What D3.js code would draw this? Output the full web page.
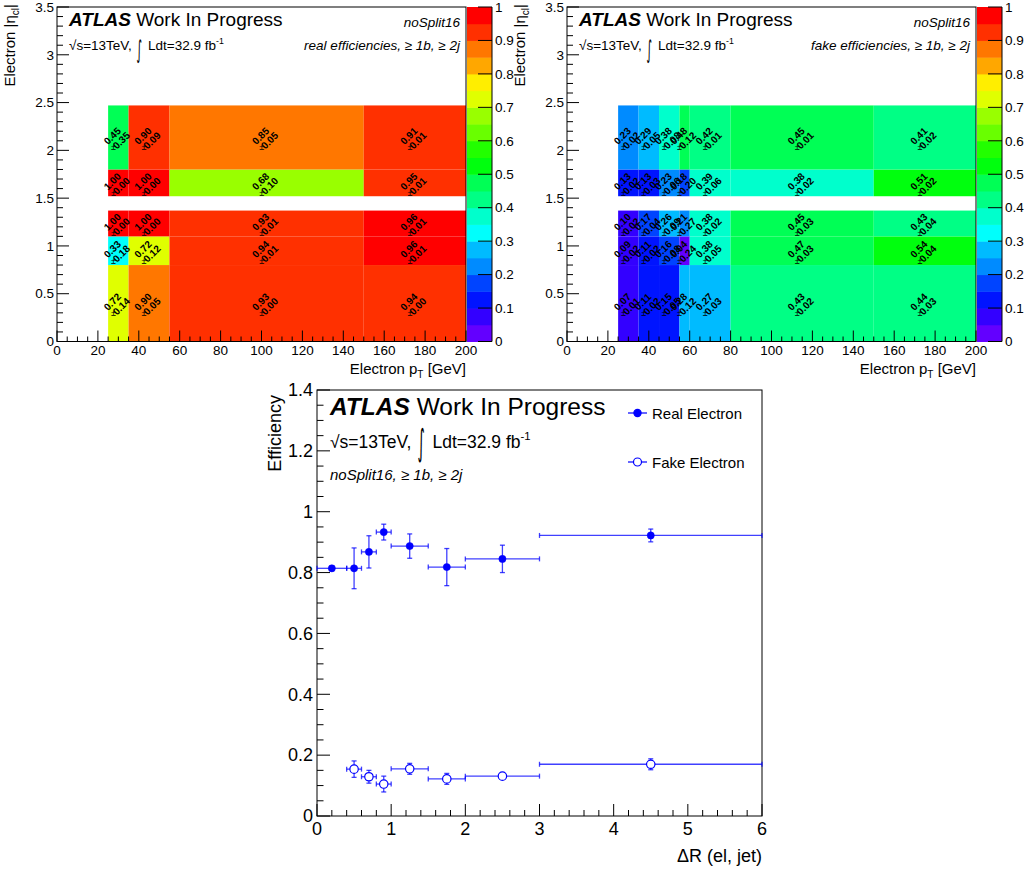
<!DOCTYPE html>
<html><head><meta charset="utf-8">
<script src="https://cdn.jsdelivr.net/npm/d3@7"></script>
<style>
body{margin:0;background:#fff}
svg{display:block}
text{font-family:"Liberation Sans",Arial,Helvetica,sans-serif;fill:#000}
</style>
</head><body>
<svg id="c" width="1028" height="873"></svg>
<script>
// ---------------- data ----------------
const etaBins = [[0,0.8],[0.8,1.1],[1.1,1.37],[1.52,1.8],[1.8,2.47]];
const realPtEdges = [25,35,55,150,200];
const realEff = [
  [0.72,0.898,0.93,0.94],
  [0.33,0.72,0.94,0.96],
  [1.00,1.00,0.93,0.96],
  [1.00,1.00,0.68,0.949],
  [0.45,0.902,0.852,0.91]
];
const realErr = [
  [0.14,0.05,0.00,0.00],
  [0.18,0.12,0.01,0.01],
  [0.00,0.00,0.01,0.01],
  [0.00,0.00,0.10,0.01],
  [0.35,0.09,0.05,0.01]
];
const fakePtEdges = [25,35,45,55,60,80,150,200];
const fakeEff = [
  [0.07,0.11,0.149,0.28,0.27,0.43,0.44],
  [0.09,0.11,0.16,0.04,0.38,0.47,0.54],
  [0.098,0.17,0.26,0.21,0.38,0.45,0.43],
  [0.13,0.13,0.23,0.18,0.39,0.38,0.51],
  [0.23,0.29,0.38,0.48,0.42,0.45,0.41]
];
const fakeErr = [
  [0.01,0.02,0.05,0.12,0.03,0.02,0.03],
  [0.02,0.02,0.08,0.24,0.05,0.03,0.04],
  [0.02,0.04,0.09,0.27,0.02,0.03,0.04],
  [0.02,0.03,0.06,0.20,0.06,0.02,0.02],
  [0.02,0.05,0.08,0.12,0.01,0.01,0.02]
];
const paletteLevels = 20;

const realDrLow  = [0.0,0.4,0.6,0.8,1.0,1.5,2.0,3.0];
const realDrHigh = [0.4,0.6,0.8,1.0,1.5,2.0,3.0,6.0];
const realDrX    = [0.2,0.5,0.7,0.9,1.25,1.75,2.5,4.5];
const realDrEff  = [0.814,0.814,0.868,0.933,0.887,0.818,0.845,0.922];
const realDrErr  = [0.008,0.067,0.053,0.026,0.040,0.061,0.045,0.021];

const fakeDrLow  = [0.4,0.6,0.8,1.0,1.5,2.0,3.0];
const fakeDrHigh = [0.6,0.8,1.0,1.5,2.0,3.0,6.0];
const fakeDrX    = [0.5,0.7,0.9,1.25,1.75,2.5,4.5];
const fakeDrEff  = [0.154,0.129,0.105,0.155,0.122,0.131,0.170];
const fakeDrErr  = [0.027,0.021,0.026,0.018,0.018,0.005,0.018];

// ---------------- helpers ----------------
const svg = d3.select("#c");
const fmt = d3.format("~g");

function rootColor(v){
  let j = Math.floor(v*paletteLevels + 1e-9);
  j = Math.max(0, Math.min(paletteLevels-1, j));
  const idx = Math.floor((j+0.99)*50/paletteLevels);
  const hue = 280 - (idx+1)*5.6;
  return d3.hsl(hue,1,0.5).toString();
}

function atlasHeader(g, x, yBase, fsBig, fsMid, yLumi, intEm, intDy){
  const t = g.append("text").attr("x",x).attr("y",yBase).style("font-size",fsBig+"px");
  t.append("tspan").style("font-weight","bold").style("font-style","italic").text("ATLAS");
  t.append("tspan").text(" Work In Progress");
  const a = g.append("text").attr("x",x).attr("y",yLumi).style("font-size",fsMid+"px").text("\u221As=13TeV,");
  const w = a.node().getComputedTextLength();
  const ix = x + w + fsMid*0.35;
  const sy = intEm/fsMid, sx = 0.8;
  g.append("text").attr("transform",`translate(${ix},${yLumi+intDy}) scale(${sx},${sy})`)
    .style("font-size",fsMid+"px").style("font-family","'DejaVu Sans',sans-serif")
    .text("\u222B");
  const b = g.append("text").attr("x",ix+fsMid*0.85).attr("y",yLumi).style("font-size",fsMid+"px");
  b.append("tspan").text("Ldt=32.9 fb");
  b.append("tspan").attr("dy",-fsMid*0.45).style("font-size",(fsMid*0.65)+"px").text("-1");
}

function heatPanel(x0, x1, ptEdges, eff, err, label){
  const x = d3.scaleLinear().domain([0,200]).range([x0,x1]);
  const y = d3.scaleLinear().domain([0,3.5]).range([341.5,7]);
  const g = svg.append("g");
  etaBins.forEach((eb,r)=>{
    for(let c=0;c<ptEdges.length-1;c++){
      g.append("rect")
        .attr("x",x(ptEdges[c])).attr("y",y(eb[1]))
        .attr("width",x(ptEdges[c+1])-x(ptEdges[c]))
        .attr("height",y(eb[0])-y(eb[1]))
        .attr("fill",rootColor(eff[r][c]));
    }
  });
  etaBins.forEach((eb,r)=>{
    for(let c=0;c<ptEdges.length-1;c++){
      const cx = (x(ptEdges[c])+x(ptEdges[c+1]))/2;
      const cy = (y(eb[0])+y(eb[1]))/2;
      const tg = g.append("g").attr("transform",`translate(${cx},${cy})`);
      tg.append("text").attr("transform","translate(-6,-1.5) rotate(-45)")
        .attr("text-anchor","middle").attr("dy","0.35em")
        .style("font-size","10px").style("font-weight","bold")
        .text(eff[r][c].toFixed(2));
      tg.append("text").attr("transform","translate(3,3) rotate(-45)")
        .attr("text-anchor","middle").attr("dy","0.35em")
        .style("font-size","10px").style("font-weight","bold")
        .text(err[r][c].toFixed(2));
      tg.append("text").attr("x",-5).attr("y",13)
        .attr("text-anchor","middle")
        .style("font-size","9px")
        .text("\u00B1");
    }
  });
  g.append("rect").attr("x",x0).attr("y",y(3.5)).attr("width",x1-x0).attr("height",y(0)-y(3.5))
    .attr("fill","none").attr("stroke","#000").attr("stroke-width",1);
  y.ticks(35).forEach(v=>{
    const major = Math.abs(v*2-Math.round(v*2))<1e-6;
    g.append("line").attr("x1",x0).attr("x2",x0+(major?12:6)).attr("y1",y(v)).attr("y2",y(v))
      .attr("stroke","#000");
  });
  y.ticks(7).forEach(v=>{
    g.append("text").attr("x",x0-3).attr("y",y(v)).attr("dy","0.35em").attr("text-anchor","end")
      .style("font-size","13.5px").text(fmt(v));
  });
  x.ticks(40).forEach(v=>{
    const major = v%20===0;
    g.append("line").attr("x1",x(v)).attr("x2",x(v)).attr("y1",y(0)).attr("y2",y(0)-(major?11:5))
      .attr("stroke","#000");
  });
  x.ticks(10).forEach(v=>{
    g.append("text").attr("x",x(v)).attr("y",y(0)+13.5).attr("text-anchor","middle")
      .style("font-size","13.5px").text(fmt(v));
  });
  const xt = g.append("text").attr("x",x1).attr("y",374).attr("text-anchor","end").style("font-size","15px");
  xt.append("tspan").text("Electron p");
  xt.append("tspan").attr("dy",4).style("font-size","10px").text("T");
  xt.append("tspan").attr("dy",-4).text(" [GeV]");
  const yt = g.append("text").attr("transform",`translate(${x0-42},4) rotate(-90)`).attr("text-anchor","end").style("font-size","15px");
  yt.append("tspan").text("Electron |\u03B7");
  yt.append("tspan").attr("dy",4).style("font-size","10px").text("cl");
  yt.append("tspan").attr("dy",-4).text("|");
  const cb0 = x1+1, cb1 = x1+26;
  const z = d3.scaleLinear().domain([0,1]).range([341.5,7]);
  d3.range(paletteLevels).forEach(i=>{
    const lo = i/paletteLevels, hi=(i+1)/paletteLevels;
    g.append("rect").attr("x",cb0).attr("y",z(hi)).attr("width",cb1-cb0).attr("height",z(lo)-z(hi)+0.5)
      .attr("fill",rootColor(lo+0.001));
  });
  g.append("line").attr("x1",cb1).attr("x2",cb1).attr("y1",z(0)).attr("y2",z(1)).attr("stroke","#000");
  z.ticks(10).forEach(v=>{
    g.append("line").attr("x1",cb1).attr("x2",cb1-14).attr("y1",z(v)).attr("y2",z(v)).attr("stroke","#000");
    g.append("text").attr("x",cb1+3).attr("y",z(v)).attr("dy","0.35em").style("font-size","13.5px").text(fmt(v));
  });
  atlasHeader(g, x0+12, 26, 19, 13.5, 50, 24.6, 8);
  g.append("text").attr("x",x1-6).attr("y",27).attr("text-anchor","end")
    .style("font-size","13.5px").style("font-style","italic").text("noSplit16");
  g.append("text").attr("x",x1-6).attr("y",50).attr("text-anchor","end")
    .style("font-size","13.5px").style("font-style","italic").text(label);
}

heatPanel(57, 466, realPtEdges, realEff, realErr, "real efficiencies, \u2265 1b, \u2265 2j");
heatPanel(567, 976, fakePtEdges, fakeEff, fakeErr, "fake efficiencies, \u2265 1b, \u2265 2j");

// ---------------- bottom graph ----------------
(function(){
  const X0=317, X1=762, Y0=816, Y1=390;
  const x = d3.scaleLinear().domain([0,6]).range([X0,X1]);
  const y = d3.scaleLinear().domain([0,1.4]).range([Y0,Y1]);
  const g = svg.append("g");
  g.append("rect").attr("x",X0).attr("y",Y1).attr("width",X1-X0).attr("height",Y0-Y1)
    .attr("fill","none").attr("stroke","#000");
  y.ticks(28).forEach(v=>{
    const major = Math.abs(v*5-Math.round(v*5))<1e-6;
    g.append("line").attr("x1",X0).attr("x2",X0+(major?13:6.5)).attr("y1",y(v)).attr("y2",y(v)).attr("stroke","#000");
  });
  y.ticks(7).forEach(v=>{
    g.append("text").attr("x",X0-4).attr("y",y(v)).attr("dy","0.35em").attr("text-anchor","end")
      .style("font-size","18px").text(fmt(v));
  });
  x.ticks(30).forEach(v=>{
    const major = Math.abs(v-Math.round(v))<1e-6;
    g.append("line").attr("x1",x(v)).attr("x2",x(v)).attr("y1",Y0).attr("y2",Y0-(major?12:6)).attr("stroke","#000");
  });
  x.ticks(6).forEach(v=>{
    g.append("text").attr("x",x(v)).attr("y",Y0+19).attr("text-anchor","middle")
      .style("font-size","18px").text(fmt(v));
  });
  g.append("text").attr("x",X1).attr("y",862).attr("text-anchor","end").style("font-size","18px").text("\u0394R (el, jet)");
  g.append("text").attr("transform",`translate(281,395) rotate(-90)`).attr("text-anchor","end")
    .style("font-size","18px").text("Efficiency");

  function series(lo,hi,xc,ev,er,open){
    const col="#0000ff";
    const r = open?4.2:3.6;
    xc.forEach((xv,i)=>{
      const px=x(xv), py=y(ev[i]);
      const ex0=x(lo[i]), ex1=x(hi[i]);
      const ey0=y(ev[i]-er[i]), ey1=y(ev[i]+er[i]);
      const eg = g.append("g").attr("stroke",col).attr("stroke-width",1.3).attr("stroke-opacity",0.75);
      eg.append("line").attr("x1",ex0).attr("x2",ex1).attr("y1",py).attr("y2",py);
      eg.append("line").attr("x1",ex0).attr("x2",ex0).attr("y1",py-2.5).attr("y2",py+2.5);
      eg.append("line").attr("x1",ex1).attr("x2",ex1).attr("y1",py-2.5).attr("y2",py+2.5);
      if(ey0-ey1>1){
        eg.append("line").attr("x1",px).attr("x2",px).attr("y1",ey0).attr("y2",ey1);
        eg.append("line").attr("x1",px-2.5).attr("x2",px+2.5).attr("y1",ey0).attr("y2",ey0);
        eg.append("line").attr("x1",px-2.5).attr("x2",px+2.5).attr("y1",ey1).attr("y2",ey1);
      }
      g.append("circle").attr("cx",px).attr("cy",py).attr("r",r)
        .attr("fill",open?"#fff":col).attr("stroke",col).attr("stroke-width",open?1.2:0.5);
    });
  }
  series(realDrLow,realDrHigh,realDrX,realDrEff,realDrErr,false);
  series(fakeDrLow,fakeDrHigh,fakeDrX,fakeDrEff,fakeDrErr,true);

  atlasHeader(g, 330, 415, 24.5, 17.5, 448, 36, 6.5);
  g.append("text").attr("x",330).attr("y",480).style("font-size","15px").style("font-style","italic")
    .text("noSplit16, \u2265 1b, \u2265 2j");

  const leg = [["Real Electron",413,false],["Fake Electron",462,true]];
  leg.forEach(([name,ly,open])=>{
    g.append("line").attr("x1",628).attr("x2",647).attr("y1",ly).attr("y2",ly).attr("stroke","#0000ff").attr("stroke-width",1.2);
    g.append("circle").attr("cx",637.5).attr("cy",ly).attr("r",open?4:3.6)
      .attr("fill",open?"#fff":"#0000ff").attr("stroke","#0000ff").attr("stroke-width",1.2);
    g.append("text").attr("x",652).attr("y",ly+5.5).style("font-size","15px").text(name);
  });
})();
</script>
</body></html>
